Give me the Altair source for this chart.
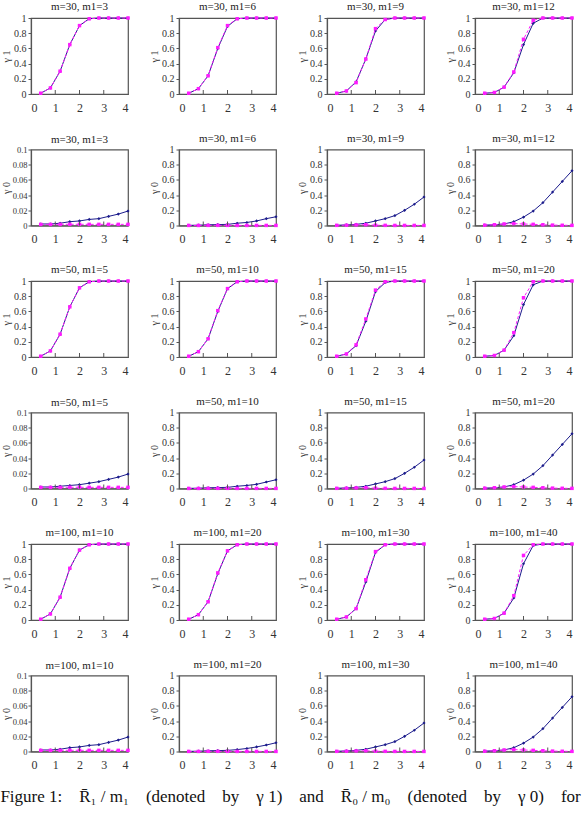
import altair as alt
import pandas as pd

# ---------------- data ----------------
X = [0.4, 0.8, 1.2, 1.6, 2.0, 2.4, 2.8, 3.2, 3.6, 4.0]

M_VALUES = [30, 50, 100]
M1_VALUES = [[3, 6, 9, 12], [5, 10, 15, 20], [10, 20, 30, 40]]

# gamma 1 (R1/m1)
G1_BLUE_M30 = [
    [0.01, 0.08, 0.30, 0.65, 0.90, 0.99, 1.0, 1.0, 1.0, 1.0],
    [0.01, 0.07, 0.24, 0.60, 0.89, 0.99, 1.0, 1.0, 1.0, 1.0],
    [0.01, 0.04, 0.16, 0.46, 0.83, 0.98, 1.0, 1.0, 1.0, 1.0],
    [0.01, 0.02, 0.09, 0.28, 0.65, 0.93, 1.0, 1.0, 1.0, 1.0],
]
G1_MAG_M30 = [
    [0.01, 0.08, 0.30, 0.65, 0.90, 0.99, 1.0, 1.0, 1.0, 1.0],
    [0.01, 0.07, 0.24, 0.61, 0.90, 0.99, 1.0, 1.0, 1.0, 1.0],
    [0.01, 0.04, 0.15, 0.46, 0.86, 0.98, 1.0, 1.0, 1.0, 1.0],
    [0.01, 0.02, 0.09, 0.29, 0.72, 0.97, 1.0, 1.0, 1.0, 1.0],
]
G1_BLUE_M50 = [
    [0.01, 0.08, 0.30, 0.66, 0.91, 0.99, 1.0, 1.0, 1.0, 1.0],
    [0.01, 0.07, 0.24, 0.60, 0.90, 0.99, 1.0, 1.0, 1.0, 1.0],
    [0.01, 0.04, 0.15, 0.47, 0.86, 0.98, 1.0, 1.0, 1.0, 1.0],
    [0.01, 0.02, 0.09, 0.28, 0.69, 0.95, 1.0, 1.0, 1.0, 1.0],
]
G1_MAG_M50 = [
    [0.01, 0.08, 0.30, 0.66, 0.91, 0.99, 1.0, 1.0, 1.0, 1.0],
    [0.01, 0.07, 0.24, 0.61, 0.90, 0.99, 1.0, 1.0, 1.0, 1.0],
    [0.01, 0.04, 0.16, 0.50, 0.88, 0.99, 1.0, 1.0, 1.0, 1.0],
    [0.01, 0.02, 0.09, 0.32, 0.78, 0.99, 1.0, 1.0, 1.0, 1.0],
]
G1_BLUE_M100 = [
    [0.01, 0.08, 0.30, 0.68, 0.92, 0.99, 1.0, 1.0, 1.0, 1.0],
    [0.01, 0.07, 0.24, 0.61, 0.91, 0.99, 1.0, 1.0, 1.0, 1.0],
    [0.01, 0.04, 0.15, 0.50, 0.89, 0.99, 1.0, 1.0, 1.0, 1.0],
    [0.01, 0.02, 0.09, 0.29, 0.74, 0.98, 1.0, 1.0, 1.0, 1.0],
]
G1_MAG_M100 = [
    [0.01, 0.08, 0.30, 0.68, 0.92, 0.99, 1.0, 1.0, 1.0, 1.0],
    [0.01, 0.07, 0.24, 0.62, 0.91, 0.99, 1.0, 1.0, 1.0, 1.0],
    [0.01, 0.04, 0.15, 0.53, 0.90, 0.99, 1.0, 1.0, 1.0, 1.0],
    [0.01, 0.02, 0.09, 0.32, 0.85, 0.99, 1.0, 1.0, 1.0, 1.0],
]

# gamma 0 (R0/m0)
G0_BLUE_M30 = [
    [0.002, 0.002, 0.003, 0.005, 0.006, 0.008, 0.009, 0.012, 0.015, 0.019],
    [0.002, 0.004, 0.010, 0.012, 0.015, 0.030, 0.040, 0.060, 0.090, 0.115],
    [0.003, 0.008, 0.015, 0.030, 0.060, 0.090, 0.130, 0.200, 0.280, 0.375],
    [0.005, 0.010, 0.020, 0.050, 0.110, 0.190, 0.300, 0.440, 0.580, 0.720],
]
G0_MAG_M30 = [
    [0.0015, 0.0015, 0.0015, 0.0016, 0.0016, 0.0015, 0.0015, 0.0015, 0.0015, 0.0015],
    [0.001, 0.001, 0.002, 0.002, 0.002, 0.001, 0.001, 0.001, 0.001, 0.001],
    [0.002, 0.004, 0.008, 0.010, 0.004, 0.002, 0.001, 0.001, 0.001, 0.001],
    [0.004, 0.010, 0.020, 0.025, 0.020, 0.015, 0.010, 0.005, 0.003, 0.002],
]
G0_BLUE_M50 = [
    [0.002, 0.002, 0.003, 0.004, 0.005, 0.007, 0.009, 0.012, 0.015, 0.019],
    [0.002, 0.004, 0.010, 0.012, 0.015, 0.030, 0.040, 0.055, 0.085, 0.115],
    [0.003, 0.008, 0.015, 0.030, 0.060, 0.090, 0.130, 0.200, 0.280, 0.375],
    [0.005, 0.010, 0.020, 0.050, 0.110, 0.190, 0.300, 0.440, 0.580, 0.720],
]
G0_MAG_M50 = [
    [0.0015, 0.0015, 0.0015, 0.0016, 0.0016, 0.0015, 0.0015, 0.0015, 0.0015, 0.0015],
    [0.001, 0.001, 0.002, 0.002, 0.002, 0.001, 0.001, 0.001, 0.001, 0.001],
    [0.002, 0.004, 0.008, 0.010, 0.004, 0.002, 0.001, 0.001, 0.001, 0.001],
    [0.004, 0.010, 0.020, 0.025, 0.020, 0.015, 0.010, 0.005, 0.003, 0.002],
]
G0_BLUE_M100 = [
    [0.002, 0.002, 0.003, 0.005, 0.006, 0.008, 0.009, 0.012, 0.015, 0.019],
    [0.002, 0.004, 0.010, 0.012, 0.015, 0.025, 0.040, 0.060, 0.085, 0.115],
    [0.003, 0.008, 0.015, 0.030, 0.060, 0.090, 0.130, 0.200, 0.280, 0.375],
    [0.005, 0.010, 0.020, 0.050, 0.110, 0.190, 0.300, 0.440, 0.580, 0.720],
]
G0_MAG_M100 = [
    [0.0015, 0.0015, 0.0015, 0.0016, 0.0016, 0.0015, 0.0015, 0.0015, 0.0015, 0.0015],
    [0.001, 0.001, 0.002, 0.002, 0.002, 0.001, 0.001, 0.001, 0.001, 0.001],
    [0.002, 0.004, 0.008, 0.010, 0.004, 0.002, 0.001, 0.001, 0.001, 0.001],
    [0.004, 0.010, 0.020, 0.025, 0.020, 0.015, 0.010, 0.005, 0.003, 0.002],
]

X_TICKS = [0, 1, 2, 3, 4]
INNER_TICKS = [1, 2, 3]
Y_TICKS_FULL = [0, 0.2, 0.4, 0.6, 0.8, 1.0]
Y_TICKS_SMALL = [0, 0.02, 0.04, 0.06, 0.08, 0.1]

S3 = "\u00a0" * 3
S4 = "\u00a0" * 4
CAPTION = ("Figure\u00a01:" + S4 + "R\u0304\u2081\u00a0/\u00a0m\u2081" + S4 + "(denoted" + S4 + "by" + S4
           + "\u03b3\u00a01)" + S4 + "and" + S4 + "R\u0304\u2080\u00a0/\u00a0m\u2080" + S4 + "(denoted"
           + S4 + "by" + S4 + "\u03b3\u00a00)" + S4 + "for")

# ---------------- style ----------------
W, H = 97, 76
NAVY = "#1c1c8c"
MAGENTA = "#ff1aff"
FRAME = "#555555"
FONT = "Liberation Serif"


def panel(title, ylab, blue, mag, ymax, yticks, small):
    df = pd.DataFrame({
        "x": X + X,
        "y": blue + mag,
        "s": ["b"] * len(X) + ["m"] * len(X),
    })
    xenc = alt.X("x:Q", scale=alt.Scale(domain=[0, 4], nice=False, zero=False),
                 axis=alt.Axis(values=X_TICKS, ticks=False, grid=False, title=None,
                               labelPadding=8, labelFontSize=12, labelFont=FONT,
                               labelColor="#333", domainColor=FRAME, domainWidth=1.2))
    yenc = alt.Y("y:Q", scale=alt.Scale(domain=[0, ymax], nice=False),
                 axis=alt.Axis(values=yticks, format="~g", grid=False, title=ylab,
                               tickSize=3, tickColor=FRAME, labelPadding=1 if small else 2,
                               labelFontSize=8.5 if small else 10, labelFont=FONT, labelColor="#333",
                               minExtent=19, maxExtent=19, titlePadding=1,
                               titleFontSize=10, titleFont=FONT, titleFontWeight="normal",
                               titleColor="#333", domainColor=FRAME, domainWidth=1.2))
    base = alt.Chart(df)
    bl = base.transform_filter(alt.datum.s == "b")
    mg = base.transform_filter(alt.datum.s == "m")
    blue_line = bl.mark_line(color=NAVY, strokeWidth=1).encode(x=xenc, y=yenc)
    blue_pts = bl.mark_point(shape="diamond", filled=True, size=10, color=NAVY, opacity=1).encode(x=xenc, y=yenc)
    mag_line = mg.mark_line(color=MAGENTA, strokeWidth=1, strokeDash=[3, 2]).encode(x=xenc, y=yenc)
    mag_pts = mg.mark_point(shape="square", filled=True, size=12, color=MAGENTA, opacity=1).encode(x=xenc, y=yenc)
    ticks = alt.Chart(pd.DataFrame({"x": INNER_TICKS})).mark_rule(color=FRAME, strokeWidth=1).encode(
        x=xenc, y=alt.value(H), y2=alt.value(H - 4))
    return alt.layer(blue_line, blue_pts, mag_line, mag_pts, ticks).properties(
        width=W, height=H,
        title=alt.TitleParams(title, fontSize=11, font=FONT, fontWeight="normal",
                              color="#222", offset=1, anchor="middle"))


groups = [
    (M_VALUES[0], M1_VALUES[0], G1_BLUE_M30, G1_MAG_M30, G0_BLUE_M30, G0_MAG_M30),
    (M_VALUES[1], M1_VALUES[1], G1_BLUE_M50, G1_MAG_M50, G0_BLUE_M50, G0_MAG_M50),
    (M_VALUES[2], M1_VALUES[2], G1_BLUE_M100, G1_MAG_M100, G0_BLUE_M100, G0_MAG_M100),
]

panels = []
for m, m1s, g1b, g1m, g0b, g0m in groups:
    for j, m1 in enumerate(m1s):
        panels.append(panel(f"m={m}, m1={m1}", "\u03b3 1", g1b[j], g1m[j], 1.0, Y_TICKS_FULL, False))
    for j, m1 in enumerate(m1s):
        small = j == 0
        ymax = 0.1 if small else 1.0
        yt = Y_TICKS_SMALL if small else Y_TICKS_FULL
        panels.append(panel(f"m={m}, m1={m1}", "\u03b3 0", g0b[j], g0m[j], ymax, yt, small))

chart = alt.concat(
    *panels, columns=4, spacing={"row": 55.5, "column": 51}, bounds="flush",
    title=alt.TitleParams(CAPTION, orient="bottom", anchor="start", frame="bounds",
                          fontSize=17, font=FONT, fontWeight="normal", color="#111",
                          offset=18),
).properties(
    padding={"left": 0, "top": 0, "right": 2, "bottom": 5},
    background="white",
).configure_view(
    stroke=FRAME, strokeWidth=1.2
).configure_axis(
    labelFont=FONT, titleFont=FONT
)

chart.save("out.html", embed_options={"renderer": "svg", "actions": False})
